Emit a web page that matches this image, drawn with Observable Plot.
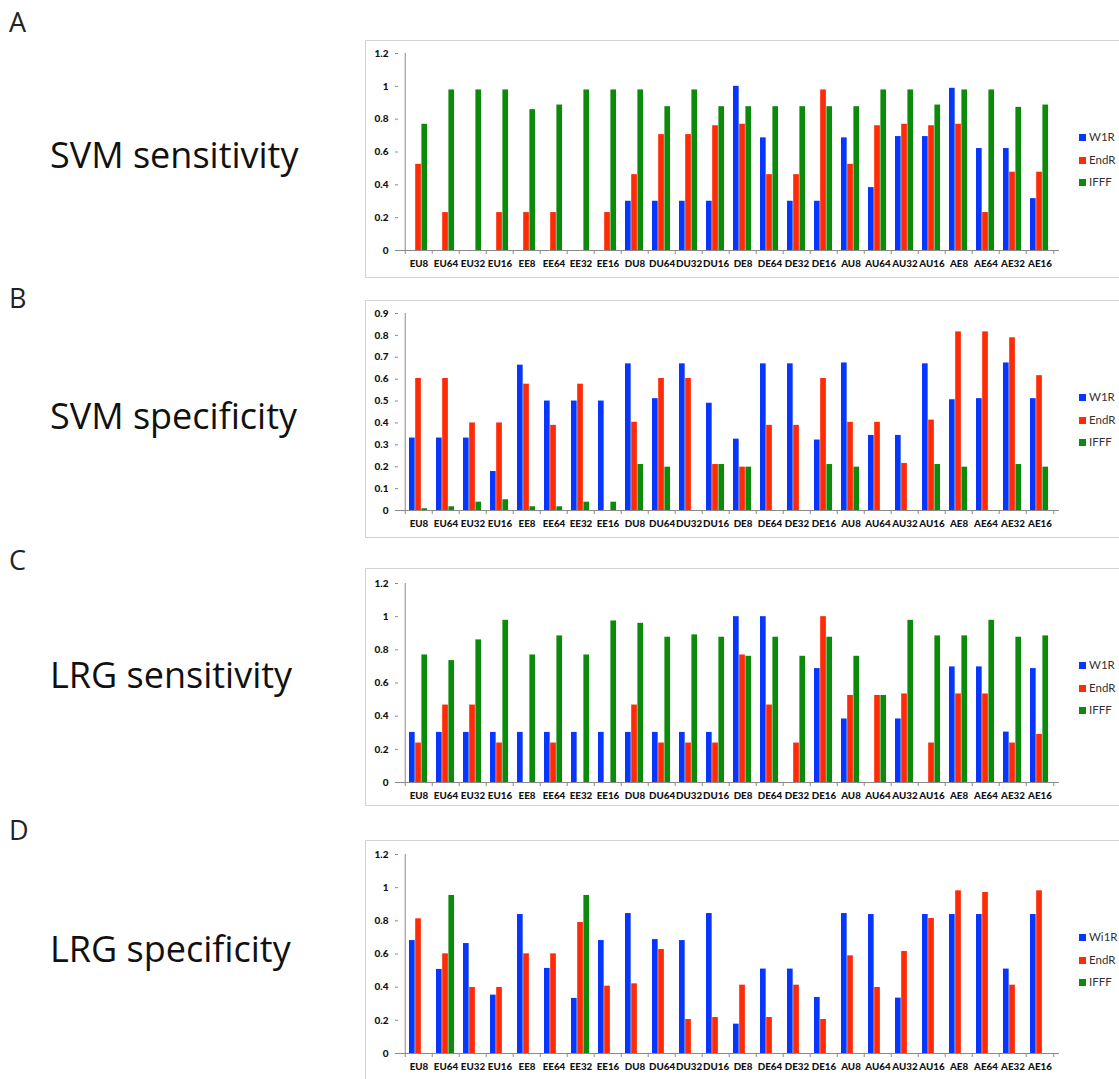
<!DOCTYPE html>
<html>
<head>
<meta charset="utf-8">
<script src="https://cdn.jsdelivr.net/npm/d3@7"></script>
<script src="https://cdn.jsdelivr.net/npm/@observablehq/plot@0.6"></script>
<style>
  html, body { margin: 0; padding: 0; background: #fff; }
  #page { position: relative; width: 1119px; height: 1079px; overflow: hidden; background: #fff; }
  .letter { position: absolute; left: 9px; font-family: "Open Sans", sans-serif; font-size: 27px; font-weight: 400; color: #222; line-height: 1; }
  .title { position: absolute; left: 50px; font-family: "Open Sans", sans-serif; font-size: 36px; font-weight: 500; color: #111; line-height: 1; white-space: nowrap; }
  .box { position: absolute; left: 365px; width: 770px; border: 1.5px solid #d2d2d2; box-sizing: border-box; }
  .chart { position: absolute; left: 365px; }
  .legend { position: absolute; left: 1079px; font-family: "Lato", sans-serif; font-size: 11.5px; color: #333; }
  .legend div { position: absolute; left: 0; white-space: nowrap; line-height: 12px; }
  .legend span.sw { display: inline-block; width: 7px; height: 7px; margin-right: 3px; vertical-align: 0px; }
</style>
</head>
<body>
<div id="page"></div>
<script>
// ---------- data ----------
const categories = ["EU8","EU64","EU32","EU16","EE8","EE64","EE32","EE16","DU8","DU64","DU32","DU16","DE8","DE64","DE32","DE16","AU8","AU64","AU32","AU16","AE8","AE64","AE32","AE16"];
const seriesNames = ["W1R","EndR","IFFF"];
const seriesColors = ["#0636ff","#ff2a06","#0b8a0b"];

// A: SVM sensitivity
const svmSensW1R  = [0,0,0,0,0,0,0,0,0.30,0.30,0.30,0.30,1.0,0.686,0.30,0.30,0.686,0.383,0.694,0.694,0.988,0.621,0.621,0.316];
const svmSensEndR = [0.525,0.231,0,0.231,0.231,0.231,0,0.231,0.462,0.706,0.706,0.76,0.769,0.462,0.462,0.978,0.525,0.76,0.769,0.76,0.769,0.231,0.477,0.477];
const svmSensIFFF = [0.769,0.978,0.978,0.978,0.858,0.886,0.978,0.978,0.978,0.876,0.978,0.876,0.876,0.876,0.876,0.876,0.876,0.978,0.978,0.886,0.978,0.978,0.872,0.886];

// B: SVM specificity
const svmSpecW1R  = [0.331,0.331,0.331,0.178,0.664,0.5,0.5,0.5,0.67,0.511,0.67,0.49,0.326,0.67,0.67,0.322,0.674,0.343,0.343,0.67,0.506,0.511,0.674,0.511];
const svmSpecEndR = [0.603,0.603,0.4,0.4,0.577,0.389,0.577,0,0.403,0.603,0.603,0.21,0.198,0.389,0.389,0.603,0.403,0.403,0.215,0.413,0.816,0.816,0.789,0.616];
const svmSpecIFFF = [0.008,0.017,0.038,0.049,0.017,0.017,0.038,0.038,0.21,0.198,0,0.21,0.198,0,0,0.21,0.198,0,0,0.21,0.198,0,0.21,0.198];

// C: LRG sensitivity
const lrgSensW1R  = [0.302,0.302,0.302,0.302,0.302,0.302,0.302,0.302,0.302,0.302,0.302,0.302,1.0,1.0,0,0.687,0.383,0,0.383,0,0.697,0.697,0.304,0.687];
const lrgSensEndR = [0.238,0.467,0.467,0.238,0,0.238,0,0,0.467,0.238,0.238,0.238,0.769,0.467,0.238,1.0,0.525,0.525,0.534,0.238,0.534,0.534,0.238,0.29];
const lrgSensIFFF = [0.769,0.735,0.86,0.978,0.769,0.884,0.769,0.974,0.96,0.876,0.89,0.876,0.761,0.876,0.761,0.876,0.761,0.525,0.978,0.884,0.884,0.978,0.876,0.884];

// D: LRG specificity
const lrgSpecW1R  = [0.681,0.507,0.663,0.352,0.838,0.513,0.332,0.681,0.844,0.687,0.681,0.844,0.177,0.509,0.509,0.338,0.844,0.838,0.334,0.838,0.838,0.838,0.509,0.838];
const lrgSpecEndR = [0.812,0.601,0.398,0.398,0.601,0.601,0.79,0.406,0.42,0.627,0.205,0.217,0.412,0.217,0.412,0.205,0.589,0.398,0.615,0.814,0.981,0.971,0.412,0.981];
const lrgSpecIFFF = [0,0.953,0,0,0,0,0.953,0,0,0,0,0,0,0,0,0,0,0,0,0,0,0,0,0];

const ticks12 = [0,0.2,0.4,0.6,0.8,1,1.2];
const ticks09 = [0,0.1,0.2,0.3,0.4,0.5,0.6,0.7,0.8,0.9];

const panels = [
  {letter:"A", title:"SVM sensitivity", values:[svmSensW1R,svmSensEndR,svmSensIFFF], ticks:ticks12, legend:["W1R","EndR","IFFF"],
   boxTop:40, boxBottom:278, plotTop:53, plotBottom:250, letterTop:8, titleTop:137},
  {letter:"B", title:"SVM specificity", values:[svmSpecW1R,svmSpecEndR,svmSpecIFFF], ticks:ticks09, legend:["W1R","EndR","IFFF"],
   boxTop:300, boxBottom:538, plotTop:313, plotBottom:510, letterTop:284, titleTop:398},
  {letter:"C", title:"LRG sensitivity", values:[lrgSensW1R,lrgSensEndR,lrgSensIFFF], ticks:ticks12, legend:["W1R","EndR","IFFF"],
   boxTop:568, boxBottom:806, plotTop:583, plotBottom:782, letterTop:546, titleTop:657},
  {letter:"D", title:"LRG specificity", values:[lrgSpecW1R,lrgSpecEndR,lrgSpecIFFF], ticks:ticks12, legend:["Wi1R","EndR","IFFF"],
   boxTop:840, boxBottom:1082, plotTop:854, plotBottom:1053, letterTop:816, titleTop:931}
];

const page = document.getElementById("page");
const svgLeft = 365, svgWidth = 754, plotLeft = 398, plotRight = 1059;
const mL = plotLeft - svgLeft, mR = (svgLeft + svgWidth) - plotRight;
const step = (plotRight - plotLeft) / categories.length;
const barW = 6.2, groupOffset = 4;
const fmt = d => String(+d.toFixed(2));

for (const p of panels) {
  const L = document.createElement("div");
  L.className = "letter"; L.style.top = p.letterTop + "px"; L.textContent = p.letter;
  page.appendChild(L);
  const T = document.createElement("div");
  T.className = "title"; T.style.top = p.titleTop + "px"; T.textContent = p.title;
  page.appendChild(T);
  const B = document.createElement("div");
  B.className = "box"; B.style.top = p.boxTop + "px"; B.style.height = (p.boxBottom - p.boxTop) + "px";
  page.appendChild(B);

  const rows = [];
  seriesNames.forEach((s, k) => categories.forEach((c, i) => rows.push({cat: c, series: s, value: p.values[k][i]})));
  const ymax = p.ticks[p.ticks.length - 1];
  const h = p.boxBottom - p.boxTop;

  const barMarks = seriesNames.map((s, k) => Plot.barY(rows.filter(r => r.series === s), {
    x: "cat", y: "value", fill: seriesColors[k],
    insetLeft: groupOffset + k * barW,
    insetRight: step - (groupOffset + (k + 1) * barW)
  }));

  const chart = Plot.plot({
    width: svgWidth, height: h,
    marginLeft: mL, marginRight: mR, marginTop: p.plotTop - p.boxTop, marginBottom: p.boxBottom - p.plotBottom,
    style: {background: "transparent", fontFamily: "Lato, sans-serif", fontSize: "10px", fontWeight: "bold", color: "#222", overflow: "visible"},
    x: {type: "band", domain: categories, padding: 0, axis: null},
    y: {domain: [0, ymax], axis: null},
    marks: [
      ...barMarks,
      Plot.ruleY([0], {stroke: "#8a8a8a", strokeWidth: 1}),
      Plot.ruleX([categories[0]], {x: d => d, dx: -step / 2, stroke: "#8a8a8a", strokeWidth: 1}),
      Plot.axisY({ticks: p.ticks, tickFormat: fmt, tickSize: 3, tickPadding: 7, stroke: "#8a8a8a", fill: "#111", fontWeight: 900, fontSize: 10, label: null}),
      Plot.axisX({ticks: categories, tickSize: 0, tickPadding: 10, fill: "#111", fontWeight: 900, fontSize: 9.8, label: null}),
      Plot.axisX({ticks: categories, tickSize: 4, tickFormat: () => "", dx: -step / 2, stroke: "#8a8a8a", label: null}),
      Plot.axisX({ticks: [categories[categories.length - 1]], tickSize: 4, tickFormat: () => "", dx: step / 2, stroke: "#8a8a8a", label: null})
    ]
  });
  chart.classList.add("chart");
  chart.style.position = "absolute";
  chart.style.left = svgLeft + "px";
  chart.style.top = p.boxTop + "px";
  page.appendChild(chart);

  const lg = document.createElement("div");
  lg.className = "legend";
  lg.style.top = (p.boxTop + 91) + "px";
  p.legend.forEach((name, k) => {
    const item = document.createElement("div");
    item.style.top = (k * 22.5) + "px";
    item.innerHTML = `<span class="sw" style="background:${seriesColors[k]}"></span>${name}`;
    lg.appendChild(item);
  });
  page.appendChild(lg);
}
</script>
</body>
</html>
